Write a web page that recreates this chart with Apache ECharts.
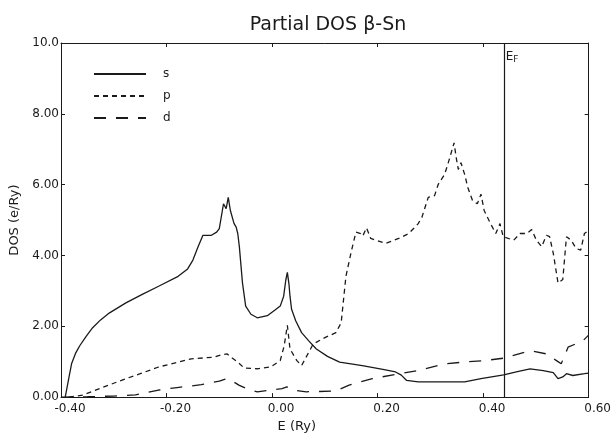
<!DOCTYPE html>
<html>
<head>
<meta charset="utf-8">
<script src="https://cdn.jsdelivr.net/npm/echarts@6/dist/echarts.min.js"></script>
<style>html,body{margin:0;padding:0;background:#fff}#c{width:614px;height:438px}</style>
</head>
<body>
<div id="c"></div>
<script>
// ---- data (E in Ry, DOS in e/Ry) ----
var titleText = 'Partial DOS β-Sn';
var seriesNames = ['s', 'p', 'd'];
var fermiEnergy = 0.437;

var sE = [-0.392,-0.389,-0.385,-0.380,-0.372,-0.3645,-0.352,-0.340,-0.325,-0.308,-0.277,-0.246,-0.215,-0.178,-0.160,-0.150,-0.140,-0.131,-0.115,-0.105,-0.100,-0.092,-0.087,-0.083,-0.079,-0.072,-0.068,-0.065,-0.062,-0.056,-0.050,-0.040,-0.028,-0.009,0.005,0.0155,0.022,0.026,0.029,0.032,0.034,0.037,0.045,0.056,0.070,0.084,0.105,0.128,0.171,0.210,0.234,0.245,0.255,0.277,0.327,0.365,0.396,0.439,0.465,0.489,0.514,0.533,0.542,0.551,0.558,0.570,0.592,0.600];
var sV = [0.00,0.05,0.55,0.94,1.25,1.45,1.72,1.96,2.18,2.38,2.66,2.90,3.13,3.41,3.62,3.87,4.25,4.57,4.57,4.66,4.76,5.46,5.32,5.64,5.27,4.90,4.80,4.62,4.25,3.22,2.57,2.34,2.24,2.30,2.45,2.57,2.85,3.30,3.52,3.20,2.85,2.48,2.15,1.82,1.58,1.36,1.15,0.99,0.89,0.78,0.71,0.62,0.47,0.43,0.43,0.43,0.52,0.63,0.72,0.80,0.75,0.69,0.52,0.57,0.66,0.61,0.66,0.68];

var pE = [-0.385,-0.358,-0.320,-0.277,-0.250,-0.215,-0.180,-0.153,-0.109,-0.095,-0.085,-0.075,-0.065,-0.053,-0.028,-0.003,0.0155,0.023,0.029,0.034,0.047,0.056,0.078,0.100,0.121,0.131,0.140,0.150,0.159,0.168,0.172,0.179,0.187,0.215,0.240,0.259,0.271,0.277,0.284,0.296,0.308,0.315,0.327,0.333,0.345,0.349,0.353,0.358,0.365,0.371,0.380,0.389,0.396,0.402,0.414,0.424,0.432,0.438,0.458,0.470,0.483,0.492,0.501,0.511,0.520,0.526,0.533,0.542,0.551,0.558,0.567,0.576,0.585,0.592,0.600];
var pV = [0.00,0.06,0.28,0.52,0.66,0.85,0.98,1.08,1.13,1.20,1.22,1.10,0.99,0.82,0.80,0.85,1.03,1.45,2.03,1.36,1.03,0.89,1.50,1.68,1.82,2.10,3.41,4.10,4.66,4.62,4.55,4.78,4.48,4.34,4.48,4.62,4.80,4.90,5.08,5.64,5.69,6.01,6.29,6.57,7.18,6.76,6.43,6.62,6.29,5.92,5.55,5.46,5.73,5.27,4.90,4.62,4.90,4.53,4.43,4.62,4.62,4.73,4.43,4.25,4.57,4.53,4.06,3.22,3.32,4.53,4.43,4.20,4.15,4.62,4.70];

var dE = [-0.400,-0.350,-0.300,-0.259,-0.215,-0.180,-0.134,-0.100,-0.090,-0.084,-0.075,-0.062,-0.045,-0.028,-0.004,0.019,0.028,0.040,0.065,0.121,0.146,0.190,0.240,0.277,0.327,0.365,0.402,0.439,0.489,0.520,0.539,0.548,0.561,0.589,0.600];
var dV = [0.00,0.01,0.03,0.06,0.20,0.27,0.35,0.45,0.50,0.52,0.45,0.33,0.22,0.15,0.20,0.24,0.29,0.20,0.15,0.17,0.34,0.52,0.66,0.75,0.94,0.99,1.03,1.10,1.31,1.22,1.03,0.94,1.41,1.59,1.75];

var xTicks = [-0.40,-0.20,0.00,0.20,0.40,0.60];
var yTicks = ['0.00','2.00','4.00','6.00','8.00','10.0'];

function zip(a, b) { return a.map(function (v, i) { return [v, b[i]]; }); }

var ink = '#1a1a1a';
var fontFam = '"DejaVu Sans", sans-serif';

var chart = echarts.init(document.getElementById('c'), null, {renderer: 'canvas'});

function axisCommon() {
  return {
    axisLine: {show: true, onZero: false, lineStyle: {color: ink, width: 1}},
    axisTick: {show: true, inside: true, length: 4, lineStyle: {color: ink}},
    splitLine: {show: false}
  };
}

var option = {
  animation: false,
  backgroundColor: '#fff',
  title: {
    text: titleText, left: 323, top: 11, textAlign: 'center',
    textStyle: {fontFamily: fontFam, fontWeight: 'normal', fontSize: 19, color: ink}
  },
  grid: {left: 61, right: 19, top: 43, bottom: 34, containLabel: false},
  legend: {
    orient: 'vertical', left: 88, top: 63, itemWidth: 52, itemHeight: 14, itemGap: 10,
    data: seriesNames,
    itemStyle: {opacity: 0},
    textStyle: {fontFamily: fontFam, fontSize: 12, color: ink, padding: [0, 0, 0, 12]}
  },
  xAxis: [
    Object.assign(axisCommon(), {
      type: 'value', min: -0.4, max: 0.6, interval: 0.2, position: 'bottom',
      name: 'E (Ry)', nameLocation: 'middle', nameGap: 22,
      nameTextStyle: {fontFamily: fontFam, fontSize: 13, color: ink, padding: [0, 56, 0, 0]},
      axisLabel: {
        margin: 6, fontFamily: fontFam, fontSize: 12, color: ink, padding: [0, 0, 0, 18],
        formatter: function (v) { var i = Math.round((v + 0.4) / 0.2); return xTicks[i].toFixed(2); }
      }
    }),
    Object.assign(axisCommon(), {
      type: 'value', min: -0.4, max: 0.6, interval: 0.2, position: 'top',
      axisLabel: {show: false}
    })
  ],
  yAxis: [
    Object.assign(axisCommon(), {
      type: 'value', min: 0, max: 10, interval: 2, position: 'left',
      name: 'DOS (e/Ry)', nameLocation: 'middle', nameGap: 38, nameRotate: 90,
      nameTextStyle: {fontFamily: fontFam, fontSize: 13, color: ink},
      axisLabel: {
        margin: 2, fontFamily: fontFam, fontSize: 12, color: ink,
        formatter: function (v) { return yTicks[Math.round(v / 2)]; }
      }
    }),
    Object.assign(axisCommon(), {
      type: 'value', min: 0, max: 10, interval: 2, position: 'right',
      axisLabel: {show: false}
    })
  ],
  series: [
    {
      name: seriesNames[0], type: 'line', data: zip(sE, sV), symbol: 'none', showSymbol: false,
      lineStyle: {color: ink, width: 1.3, type: 'solid'}, itemStyle: {color: ink},
      markLine: {
        silent: true, symbol: ['none', 'none'], label: {show: false},
        lineStyle: {color: ink, width: 1.2, type: 'solid'},
        data: [{xAxis: fermiEnergy}]
      }
    },
    {
      name: seriesNames[1], type: 'line', data: zip(pE, pV), symbol: 'none', showSymbol: false,
      lineStyle: {color: ink, width: 1.3, type: [5, 4]}, itemStyle: {color: ink}
    },
    {
      name: seriesNames[2], type: 'line', data: zip(dE, dV), symbol: 'none', showSymbol: false,
      lineStyle: {color: ink, width: 1.3, type: [12, 10]}, itemStyle: {color: ink}
    }
  ]
};
chart.setOption(option);

var pt = chart.convertToPixel({xAxisIndex: 0, yAxisIndex: 0}, [fermiEnergy, 10]);
chart.setOption({
  graphic: [{
    type: 'text', left: pt[0] + 3, top: pt[1] + 8,
    style: {
      text: '{e|E}{f|F}',
      rich: {
        e: {fontFamily: fontFam, fontSize: 12, fill: ink},
        f: {fontFamily: fontFam, fontSize: 9, fill: ink, padding: [6, 0, 0, 0]}
      }
    }
  }]
});
</script>
</body>
</html>
